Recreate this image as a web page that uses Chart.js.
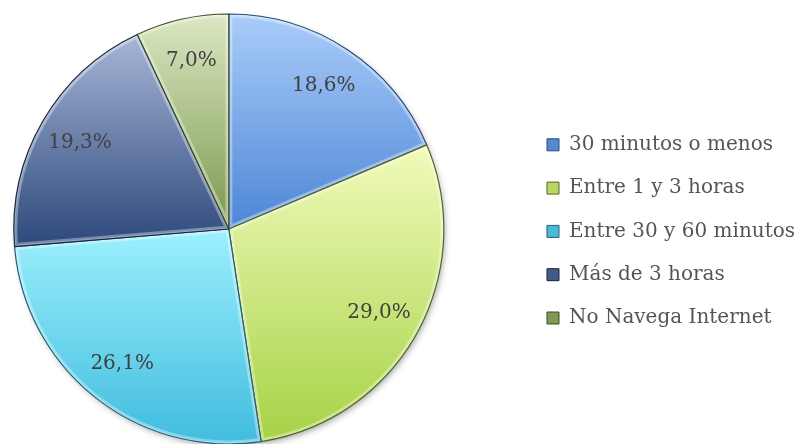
<!DOCTYPE html>
<html>
<head>
<meta charset="utf-8">
<script src="https://cdn.jsdelivr.net/npm/chart.js@4"></script>
<style>
  html, body { margin: 0; padding: 0; background: #fff; overflow: hidden; width: 796px; height: 444px; }
  #wrap { position: absolute; left: -66px; top: 0; width: 871px; height: 444px; }
</style>
</head>
<body>
<div id="wrap"><canvas id="chart"></canvas></div>
<script>
"use strict";

// data
const categories = ['30 minutos o menos', 'Entre 1 y 3 horas', 'Entre 30 y 60 minutos', 'Más de 3 horas', 'No Navega Internet'];
const shares = [18.6, 29.0, 26.1, 19.3, 7.0];

// styles
const topColors = ['#aacdf9', '#f1fbbb', '#9cf0fd', '#a6b6d6', '#dbe7c3'];
const bottomColors = ['#4d86d6', '#a6d246', '#41bcdf', '#2d487c', '#7b984d'];
const edgeColors = ['#29497a', '#4f6a1e', '#1f6277', '#172641', '#3c4f24'];
const legendColors = ['#5488cf', '#b9d863', '#4bbad9', '#435a88', '#7e9a55'];

const FONT = '"DejaVu Serif", "Liberation Serif", serif';

const fmt = v => v.toFixed(1).replace('.', ',') + '%';

// vertical gradient spanning the slice's own height
function sliceFill(context) {
  const chart = context.chart;
  const area = chart.chartArea;
  const i = context.dataIndex;
  if (!area) return bottomColors[i];
  const cx = (area.left + area.right) / 2;
  const cy = (area.top + area.bottom) / 2;
  const r = Math.min(area.right - area.left, area.bottom - area.top) / 2;
  const total = shares.reduce((a, b) => a + b, 0);
  let cum = 0;
  for (let k = 0; k < i; k++) cum += shares[k];
  const a0 = -Math.PI / 2 + 2 * Math.PI * cum / total;
  const a1 = a0 + 2 * Math.PI * shares[i] / total;
  let ys = [cy, cy + r * Math.sin(a0), cy + r * Math.sin(a1)];
  for (let a = -Math.PI / 2; a <= 2 * Math.PI; a += Math.PI) {
    if (a > a0 && a < a1) ys.push(cy + r * Math.sin(a));
  }
  const y0 = Math.min(...ys), y1 = Math.max(...ys);
  const g = chart.ctx.createLinearGradient(0, y0, 0, y1);
  g.addColorStop(0, topColors[i]);
  g.addColorStop(1, bottomColors[i]);
  return g;
}

function arcPath(ctx, p) {
  ctx.beginPath();
  ctx.moveTo(p.x, p.y);
  ctx.arc(p.x, p.y, p.outerRadius, p.startAngle, p.endAngle);
  ctx.closePath();
}

// soft bevel along slice edges, then the percentages
const sliceDecor = {
  id: 'sliceDecor',
  beforeDatasetsDraw(chart) {
    const ctx = chart.ctx;
    const meta = chart.getDatasetMeta(0);
    const p = meta.data[0] && meta.data[0].getProps(['x', 'y', 'outerRadius']);
    if (!p) return;
    ctx.save();
    ctx.shadowColor = 'rgba(0,0,0,0.35)';
    ctx.shadowBlur = 6;
    ctx.shadowOffsetX = 2;
    ctx.shadowOffsetY = 3;
    ctx.fillStyle = '#ffffff';
    ctx.beginPath();
    ctx.arc(p.x, p.y, p.outerRadius - 1, 0, Math.PI * 2);
    ctx.fill();
    ctx.restore();
  },
  afterDatasetsDraw(chart) {
    const ctx = chart.ctx;
    const meta = chart.getDatasetMeta(0);
    meta.data.forEach((arc, i) => {
      const p = arc.getProps(['x', 'y', 'startAngle', 'endAngle', 'outerRadius']);
      ctx.save();
      arcPath(ctx, p);
      ctx.clip();
      ctx.lineJoin = 'round';
      ctx.strokeStyle = 'rgba(255,255,255,0.35)';
      ctx.lineWidth = 7;
      arcPath(ctx, p);
      ctx.stroke();
      ctx.strokeStyle = 'rgba(255,255,255,0.25)';
      ctx.lineWidth = 3;
      arcPath(ctx, p);
      ctx.stroke();
      ctx.restore();
      ctx.save();
      ctx.strokeStyle = edgeColors[i];
      ctx.lineWidth = 1.2;
      ctx.lineJoin = 'round';
      arcPath(ctx, p);
      ctx.stroke();
      ctx.restore();
    });
    ctx.save();
    ctx.font = '20px ' + FONT;
    ctx.fillStyle = '#404040';
    ctx.textAlign = 'center';
    ctx.textBaseline = 'middle';
    meta.data.forEach((arc, i) => {
      const p = arc.getProps(['x', 'y', 'startAngle', 'endAngle', 'outerRadius']);
      const mid = (p.startAngle + p.endAngle) / 2;
      const rr = p.outerRadius * 0.8;
      ctx.fillText(fmt(shares[i]), p.x + rr * Math.cos(mid), p.y + rr * Math.sin(mid));
    });
    ctx.restore();
  }
};

new Chart(document.getElementById('chart'), {
  type: 'pie',
  data: {
    labels: categories,
    datasets: [{
      data: shares,
      backgroundColor: sliceFill,
      borderColor: edgeColors,
      borderWidth: 0,
      hoverOffset: 0
    }]
  },
  options: {
    responsive: true,
    maintainAspectRatio: false,
    animation: false,
    layout: {
      padding: { left: 0, right: 0, top: 14, bottom: 0 }
    },
    plugins: {
      tooltip: { enabled: false },
      legend: {
        position: 'right',
        align: 'center',
        title: { display: true, text: ' ', padding: 0, font: { size: 4 } },
        labels: {
          boxWidth: 12,
          boxHeight: 12,
          padding: 23.3,
          color: '#555555',
          font: { family: FONT, size: 20 },
          generateLabels(chart) {
            const items = Chart.overrides.pie.plugins.legend.labels.generateLabels(chart);
            items.forEach((it, i) => {
              it.fillStyle = legendColors[i];
              it.strokeStyle = edgeColors[i];
              it.lineWidth = 1;
            });
            return items;
          }
        }
      }
    }
  },
  plugins: [sliceDecor]
});
</script>
</body>
</html>
